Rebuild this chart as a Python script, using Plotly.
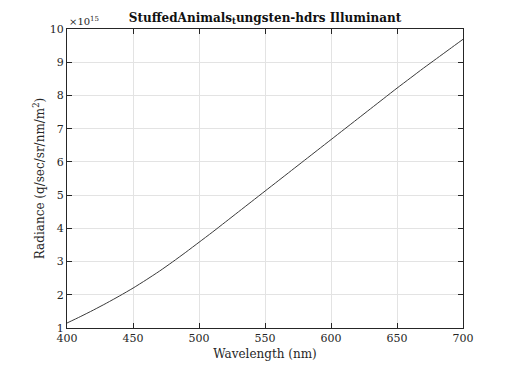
import plotly.graph_objects as go

wavelength_nm = list(range(400, 701, 10))
radiance_e15 = [1.15, 1.34, 1.54, 1.75, 1.97, 2.20, 2.45, 2.71, 2.99, 3.28, 3.58,
                3.88, 4.19, 4.50, 4.81, 5.12, 5.43, 5.74, 6.05, 6.36, 6.67,
                6.98, 7.29, 7.60, 7.91, 8.22, 8.52, 8.82, 9.11, 9.40, 9.69]
x_ticks = [400, 450, 500, 550, 600, 650, 700]
y_ticks = [1, 2, 3, 4, 5, 6, 7, 8, 9, 10]

FONT = "DejaVu Serif"
AX = "#262626"

fig = go.Figure()
fig.add_trace(go.Scatter(x=wavelength_nm, y=radiance_e15, mode="lines",
                         line=dict(color="#3a3a3a", width=1, shape="spline", smoothing=0.6),
                         showlegend=False))

axis_common = dict(showline=True, linecolor=AX, linewidth=1, mirror="ticks",
                   ticks="inside", ticklen=5, tickcolor=AX,
                   showgrid=True, gridcolor="#e3e3e3", gridwidth=1,
                   zeroline=False, automargin=False,
                   tickfont=dict(family=FONT, size=11, color=AX))

fig.update_layout(
    width=512, height=369,
    margin=dict(l=59, r=57, t=21, b=49),
    paper_bgcolor="white", plot_bgcolor="white",
    title=dict(text="<b>StuffedAnimals<sub>t</sub>ungsten-hdrs Illuminant</b>",
               x=0.5, xanchor="center", xref="paper", y=0.985, yanchor="top",
               automargin=False,
               font=dict(family=FONT, size=12, color="#111111")),
    xaxis=dict(range=[400, 700], tickvals=x_ticks,
               title=dict(text="Wavelength (nm)", standoff=5,
                          font=dict(family=FONT, size=12, color=AX)),
               **axis_common),
    yaxis=dict(range=[1, 10], tickvals=y_ticks,
               title=dict(text="Radiance (q/sec/sr/nm/m<sup>2</sup>)", standoff=2,
                          font=dict(family=FONT, size=12, color=AX)),
               **axis_common),
)
fig.add_annotation(text="×10<sup>15</sup>", xref="paper", yref="paper",
                   x=0, y=1, xanchor="left", yanchor="bottom", showarrow=False,
                   font=dict(family=FONT, size=10, color=AX), yshift=0)

fig.write_html("out.html")
